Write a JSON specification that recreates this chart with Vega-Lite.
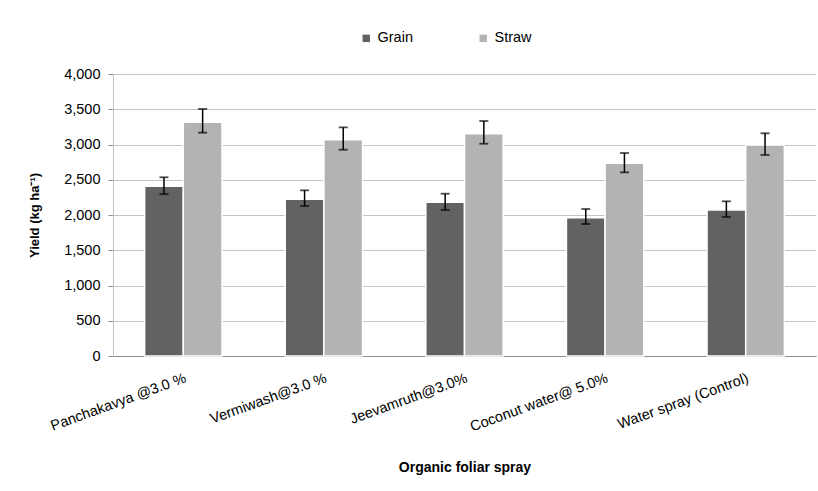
{
  "$schema": "https://vega.github.io/schema/vega-lite/v6.json",
  "width": 703,
  "height": 282,
  "autosize": {"type": "none"},
  "padding": {"left": 113, "top": 74, "right": 2, "bottom": 135},
  "background": "white",
  "config": {
    "font": "Liberation Sans",
    "view": {"stroke": null},
    "axis": {"labelFont": "Liberation Sans", "titleFont": "Liberation Sans", "labelColor": "#000000", "titleColor": "#000000"},
    "axisY": {
      "title": "Yield (kg ha⁻¹)", "titleFontSize": 13, "titleFontWeight": "bold",
      "labelFontSize": 14.5, "labelPadding": 8,
      "gridColor": "#c4c4c4", "gridWidth": 1.2, "domainColor": "#c4c4c4", "tickColor": "#8c8c8c", "tickSize": 5
    }
  },
  "data": {
    "values": [
      {"treatment": "Panchakavya @3.0 %", "part": "Grain", "yield": 2407, "low": 2295, "high": 2535},
      {"treatment": "Panchakavya @3.0 %", "part": "Straw", "yield": 3314, "low": 3168, "high": 3504},
      {"treatment": "Vermiwash@3.0 %", "part": "Grain", "yield": 2222, "low": 2128, "high": 2350},
      {"treatment": "Vermiwash@3.0 %", "part": "Straw", "yield": 3068, "low": 2926, "high": 3243},
      {"treatment": "Jeevamruth@3.0%", "part": "Grain", "yield": 2180, "low": 2070, "high": 2302},
      {"treatment": "Jeevamruth@3.0%", "part": "Straw", "yield": 3153, "low": 3011, "high": 3333},
      {"treatment": "Coconut water@ 5.0%", "part": "Grain", "yield": 1962, "low": 1872, "high": 2085},
      {"treatment": "Coconut water@ 5.0%", "part": "Straw", "yield": 2733, "low": 2605, "high": 2879},
      {"treatment": "Water spray (Control)", "part": "Grain", "yield": 2071, "low": 1972, "high": 2194},
      {"treatment": "Water spray (Control)", "part": "Straw", "yield": 2993, "low": 2851, "high": 3159}
    ]
  },
  "encoding": {
    "x": {
      "field": "treatment", "type": "nominal", "sort": null,
      "scale": {"paddingInner": 0.45, "paddingOuter": 0.225},
      "axis": {
        "title": "Organic foliar spray", "titleFontSize": 14, "titleFontWeight": "bold",
        "titleY": 104, "titleBaseline": "top",
        "labelAngle": -20, "labelFontSize": 14.5, "labelPadding": 15,
        "ticks": false, "domainColor": "#8c8c8c", "domainWidth": 1.2, "labelLimit": 300
      }
    },
    "xOffset": {"field": "part", "type": "nominal", "sort": ["Grain", "Straw"]}
  },
  "layer": [
    {
      "mark": {"type": "bar", "stroke": "#ffffff", "strokeWidth": 1.5},
      "encoding": {
        "y": {
          "field": "yield", "type": "quantitative",
          "scale": {"domain": [0, 4000]},
          "axis": {"title": "Yield (kg ha⁻¹)", "values": [0, 500, 1000, 1500, 2000, 2500, 3000, 3500, 4000], "format": ",.0f", "titlePadding": 22}
        },
        "color": {
          "field": "part", "type": "nominal",
          "scale": {"domain": ["Grain", "Straw"], "range": ["#626262", "#b3b3b3"]},
          "legend": {
            "title": null, "orient": "none", "legendX": 246, "legendY": -43,
            "direction": "horizontal", "columnPadding": 63,
            "symbolType": "square", "symbolSize": 55, "symbolStrokeWidth": 0,
            "labelFontSize": 14.5, "labelOffset": 4, "labelColor": "#000000"
          }
        }
      }
    },
    {
      "mark": {"type": "rule", "color": "#000000", "strokeWidth": 1.5},
      "encoding": {
        "y": {"field": "low", "type": "quantitative", "axis": {"title": "Yield (kg ha⁻¹)", "values": [0, 500, 1000, 1500, 2000, 2500, 3000, 3500, 4000], "format": ",.0f", "titlePadding": 22}},
        "y2": {"field": "high"}
      }
    },
    {
      "mark": {"type": "tick", "color": "#000000", "thickness": 1.8, "size": 9},
      "encoding": {
        "y": {"field": "low", "type": "quantitative", "axis": {"title": "Yield (kg ha⁻¹)", "values": [0, 500, 1000, 1500, 2000, 2500, 3000, 3500, 4000], "format": ",.0f", "titlePadding": 22}}
      }
    },
    {
      "mark": {"type": "tick", "color": "#000000", "thickness": 1.8, "size": 9},
      "encoding": {
        "y": {"field": "high", "type": "quantitative", "axis": {"title": "Yield (kg ha⁻¹)", "values": [0, 500, 1000, 1500, 2000, 2500, 3000, 3500, 4000], "format": ",.0f", "titlePadding": 22}}
      }
    }
  ]
}
